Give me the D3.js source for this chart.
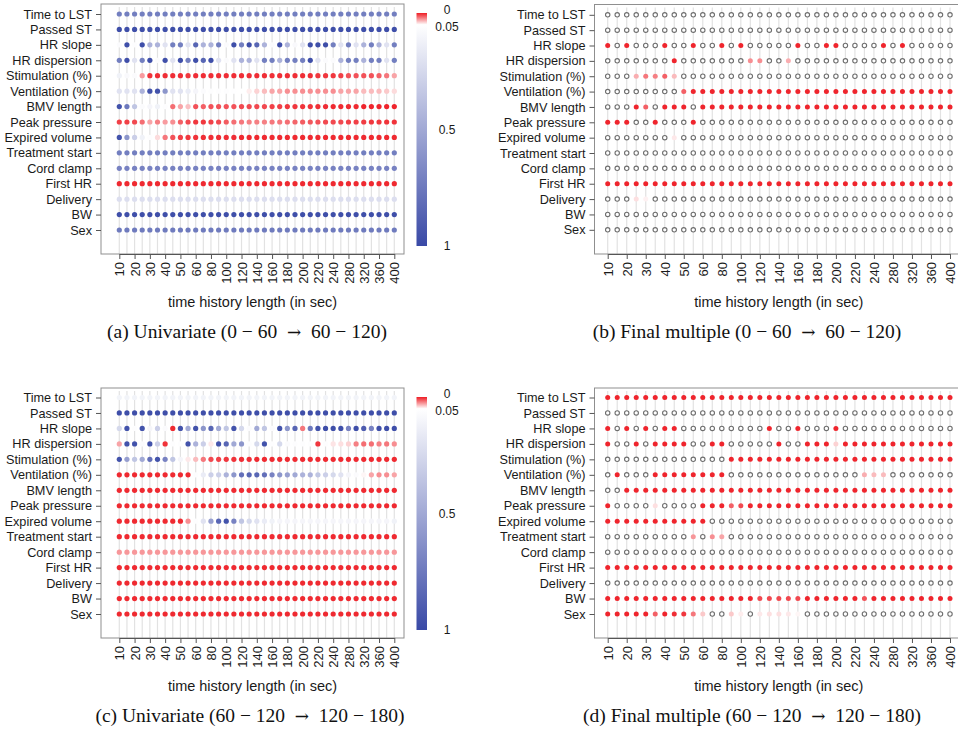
<!DOCTYPE html>
<html><head><meta charset="utf-8">
<script src="https://cdn.jsdelivr.net/npm/d3@7"></script>
<style>body{margin:0;background:#fff} svg{display:block}</style>
</head><body>
<svg id="chart" width="958" height="736"></svg>
<script>
// ---------------- data ----------------
const features = ["Time to LST","Passed ST","HR slope","HR dispersion","Stimulation (%)","Ventilation (%)",
  "BMV length","Peak pressure","Expired volume","Treatment start","Cord clamp","First HR","Delivery","BW","Sex"];
const timeSteps = [10,15,20,25,30,35,40,45,50,55,60,70,80,90,100,110,120,130,140,150,160,170,180,190,200,
  210,220,230,240,260,280,300,320,340,360,380,400];
const tickLabels = [10,20,30,40,50,60,80,100,120,140,160,180,200,220,240,280,320,360,400];
const legendTicks = [0,0.05,0.5,1];
const captions = ["(a) Univariate (0 \u2212 60 \u2192 60 \u2212 120)", "(b) Final multiple (0 \u2212 60 \u2192 60 \u2212 120)",
  "(c) Univariate (60 \u2212 120 \u2192 120 \u2212 180)", "(d) Final multiple (60 \u2212 120 \u2192 120 \u2212 180)"];
const _ = null; // feature not in the final model (open circle)

// p-values, univariate, window 0-60 -> 60-120
const pUniA = [
 [.72,.72,.72,.72,.72,.72,.72,.72,.72,.72, .72,.72,.72,.72,.72,.72,.72,.72,.72,.72, .72,.72,.72,.72,.72,.72,.72,.72,.72,.72, .72,.72,.72,.72,.72,.72,.72],
 [.97,.97,.97,.97,.97,.97,.97,.97,.97,.97, .97,.97,.97,.97,.97,.97,.97,.97,.97,.97, .97,.97,.97,.97,.97,.97,.97,.97,.97,.97, .97,.97,.97,.97,.97,.97,.97],
 [.07,.97,.06,.97,.45,.45,.2,.72,.72,.2, .85,.45,.45,.72,.07,.97,.72,.97,.85,.45, .07,.97,.45,.08,.2,.97,.97,.97,.72,.2, .72,.2,.45,.72,.45,.2,.72],
 [.72,.97,.2,.72,.97,.07,.97,.2,.97,.72, .97,.85,.97,.2,.07,.2,.45,.45,.2,.72, .72,.45,.72,.72,.72,.97,.2,.07,.07,.45, .72,.72,.45,.72,.72,.2,.72],
 [.12,.08,.07,.028,.005,.004,.004,.004,.004,.006, .004,.004,.004,.004,.004,.004,.004,.004,.004,.004, .004,.004,.004,.004,.004,.004,.006,.006,.006,.008, .012,.012,.012,.012,.015,.02,.03],
 [.2,.2,.2,.45,.95,.95,.6,.2,.2,.15, .1,.07,.06,.06,.06,.055,.05,.046,.04,.035, .03,.03,.025,.025,.025,.025,.025,.025,.025,.03, .03,.03,.035,.035,.035,.038,.042],
 [.95,.75,.35,.07,.1,.12,.06,.018,.03,.036, .012,.015,.012,.012,.012,.012,.01,.01,.01,.01, .008,.008,.006,.006,.005,.005,.004,.004,.003,.003, .003,.003,.002,.002,.002,.002,.002],
 [.008,.008,.01,.018,.03,.022,.028,.025,.015,.01, .006,.006,.008,.01,.014,.018,.02,.022,.022,.022, .02,.02,.018,.016,.014,.013,.012,.01,.01,.01, .008,.008,.007,.006,.006,.005,.005],
 [.95,.6,.3,.12,.06,.042,.02,.012,.008,.006, .005,.004,.004,.004,.004,.004,.003,.003,.003,.003, .003,.003,.003,.003,.003,.003,.003,.003,.003,.003, .003,.003,.003,.003,.003,.003,.003],
 [.72,.72,.72,.72,.72,.72,.72,.72,.72,.72, .72,.72,.72,.72,.72,.72,.72,.72,.72,.72, .72,.72,.72,.72,.72,.72,.72,.72,.72,.72, .72,.72,.72,.72,.72,.72,.72],
 [.7,.7,.7,.7,.7,.7,.7,.7,.7,.7, .7,.7,.7,.7,.7,.7,.7,.7,.7,.7, .7,.7,.7,.7,.7,.7,.7,.7,.7,.7, .7,.7,.7,.7,.7,.7,.7],
 [.003,.003,.003,.003,.003,.003,.003,.003,.003,.003, .003,.003,.003,.003,.003,.003,.003,.003,.003,.003, .003,.003,.003,.003,.003,.003,.003,.003,.003,.003, .003,.003,.003,.003,.003,.003,.003],
 [.22,.22,.22,.22,.22,.22,.22,.22,.22,.22, .22,.22,.22,.22,.22,.22,.22,.22,.22,.22, .22,.22,.22,.22,.22,.22,.22,.22,.22,.22, .22,.22,.22,.22,.22,.22,.22],
 [.97,.97,.97,.97,.97,.97,.97,.97,.97,.97, .97,.97,.97,.97,.97,.97,.97,.97,.97,.97, .97,.97,.97,.97,.97,.97,.97,.97,.97,.97, .97,.97,.97,.97,.97,.97,.97],
 [.74,.74,.74,.74,.74,.74,.74,.74,.74,.74, .74,.74,.74,.74,.74,.74,.74,.74,.74,.74, .74,.74,.74,.74,.74,.74,.74,.74,.74,.74, .74,.74,.74,.74,.74,.74,.74]
];

// p-values, final multiple model, window 0-60 -> 60-120 (null = not selected)
const pMultB = [
 [_,_,_,_,_,_,_,_,_,_, _,_,_,_,_,_,_,_,_,_, _,_,_,_,_,_,_,_,_,_, _,_,_,_,_,_,_],
 [_,_,_,_,_,_,_,_,_,_, _,_,_,_,_,_,_,_,_,_, _,_,_,_,_,_,_,_,_,_, _,_,_,_,_,_,_],
 [.002,_,.002,_,_,_,.002,_,_,.002, _,_,.002,_,.002,_,_,_,_,_, .002,_,_,.002,.002,_,_,_,_,.002, _,.002,_,_,_,_,_],
 [_,_,_,_,_,_,_,.002,_,_, _,_,_,_,_,.025,.025,_,_,.032, _,_,_,_,_,_,_,_,_,_, _,_,_,_,_,_,_],
 [_,_,_,.032,.02,.022,.015,.035,_,_, _,_,_,_,_,_,_,_,_,_, _,_,_,_,_,_,_,_,_,_, _,_,_,_,_,_,_],
 [_,_,_,_,_,_,_,_,.015,.002, .002,.002,.002,.002,.002,.002,.002,.002,.002,.002, .002,.002,.002,.002,.002,.002,.002,.002,.002,.002, .002,.002,.002,.002,.002,.002,.002],
 [_,_,_,.002,.015,_,.002,.002,.002,_, .002,.002,.002,.002,.002,.002,.002,.002,.002,.002, .002,.002,.002,.002,.002,.002,.002,.002,.002,.002, .002,.002,.002,.002,.002,.002,.002],
 [.002,.002,.002,_,_,.002,_,_,_,.002, _,_,_,_,_,_,_,_,_,_, _,_,_,_,_,_,_,_,_,_, _,_,_,_,_,_,_],
 [_,_,_,_,_,_,_,.045,_,_, _,_,_,_,_,_,_,_,_,_, _,_,_,_,_,_,_,_,_,_, _,_,_,_,_,_,_],
 [_,_,_,_,_,_,_,_,_,_, _,_,_,_,_,_,_,_,_,_, _,_,_,_,_,_,_,_,_,_, _,_,_,_,_,_,_],
 [_,_,_,_,_,_,_,_,_,_, _,_,_,_,_,_,_,_,_,_, _,_,_,_,_,_,_,_,_,_, _,_,_,_,_,_,_],
 [.002,.002,.002,.002,.002,.002,.002,.002,.002,.002, .002,.002,.002,.002,.002,.002,.002,.002,.002,.002, .002,.002,.002,.002,.002,.002,.002,.002,.002,.002, .002,.002,.002,.002,.002,.002,.002],
 [_,_,_,.043,.047,_,_,_,_,_, _,_,_,_,_,_,_,_,_,_, _,_,_,_,_,_,_,_,_,_, _,_,_,_,_,_,_],
 [_,_,_,_,_,_,_,_,_,_, _,_,_,_,_,_,_,_,_,_, _,_,_,_,_,_,_,_,_,_, _,_,_,_,_,_,_],
 [_,_,_,_,_,_,_,_,_,_, _,_,_,_,_,_,_,_,_,_, _,_,_,_,_,_,_,_,_,_, _,_,_,_,_,_,_]
];

// p-values, univariate, window 60-120 -> 120-180
const pUniC = [
 [.11,.11,.11,.11,.11,.11,.11,.11,.11,.11, .11,.11,.11,.11,.11,.11,.11,.11,.11,.11, .11,.11,.11,.11,.11,.11,.11,.11,.11,.11, .11,.11,.11,.11,.11,.11,.11],
 [.97,.97,.97,.97,.97,.97,.97,.97,.97,.97, .97,.97,.97,.97,.97,.97,.97,.97,.97,.97, .97,.97,.97,.97,.97,.97,.97,.97,.97,.97, .97,.97,.97,.97,.97,.97,.97],
 [.25,.95,.06,.95,.1,.3,.07,.003,.95,.5, .95,.6,.85,.5,.35,.95,.25,.07,.5,.35, .07,.95,.6,.85,.02,.75,.95,.97,.97,.97, .7,.97,.9,.7,.97,.97,.97],
 [.03,.95,.95,.07,.95,.3,.005,.06,.06,.95, .45,.3,.045,.95,.85,.5,.6,.06,.25,.95, .06,.25,.07,.06,.06,.06,.006,.06,.044,.043, .04,.022,.018,.018,.022,.02,.025],
 [.95,.55,.35,.5,.8,.95,.7,.35,.1,.045, .035,.02,.01,.008,.006,.005,.004,.004,.003,.003, .003,.003,.003,.003,.003,.003,.003,.003,.003,.003, .003,.003,.003,.003,.003,.003,.003],
 [.003,.003,.003,.003,.003,.003,.003,.003,.003,.003, .06,.15,.3,.3,.45,.6,.8,.85,.85,.8, .7,.6,.55,.5,.45,.45,.35,.3,.25,.2, .1,.07,.048,.03,.025,.025,.03],
 [.003,.003,.003,.003,.003,.003,.003,.003,.003,.003, .003,.003,.003,.003,.003,.003,.003,.003,.003,.003, .003,.003,.003,.003,.003,.003,.003,.003,.003,.003, .003,.003,.003,.003,.003,.003,.003],
 [.003,.003,.003,.003,.003,.003,.003,.003,.003,.003, .003,.003,.003,.003,.003,.003,.003,.003,.003,.003, .003,.003,.003,.003,.003,.003,.003,.003,.003,.003, .003,.003,.003,.003,.003,.003,.003],
 [.003,.003,.003,.003,.003,.003,.003,.003,.003,.025, .06,.2,.55,.85,.95,.7,.35,.25,.2,.15, .12,.1,.1,.1,.1,.1,.1,.1,.1,.1, .1,.1,.1,.1,.1,.1,.12],
 [.003,.003,.003,.003,.003,.003,.003,.003,.003,.003, .003,.003,.003,.003,.003,.003,.003,.003,.003,.003, .003,.003,.003,.003,.003,.003,.003,.003,.003,.003, .003,.003,.003,.003,.003,.003,.003],
 [.027,.027,.027,.027,.027,.027,.027,.027,.027,.027, .027,.027,.027,.027,.027,.027,.027,.027,.027,.027, .027,.027,.027,.027,.027,.027,.027,.027,.027,.027, .027,.027,.027,.027,.027,.027,.027],
 [.003,.003,.003,.003,.003,.003,.003,.003,.003,.003, .003,.003,.003,.003,.003,.003,.003,.003,.003,.003, .003,.003,.003,.003,.003,.003,.003,.003,.003,.003, .003,.003,.003,.003,.003,.003,.003],
 [.003,.003,.003,.003,.003,.003,.003,.003,.003,.003, .003,.003,.003,.003,.003,.003,.003,.003,.003,.003, .003,.003,.003,.003,.003,.003,.003,.003,.003,.003, .003,.003,.003,.003,.003,.003,.003],
 [.003,.003,.003,.003,.003,.003,.003,.003,.003,.003, .003,.003,.003,.003,.003,.003,.003,.003,.003,.003, .003,.003,.003,.003,.003,.003,.003,.003,.003,.003, .003,.003,.003,.003,.003,.003,.003],
 [.003,.003,.003,.003,.003,.003,.003,.003,.003,.003, .003,.003,.003,.003,.003,.003,.003,.003,.003,.003, .003,.003,.003,.003,.003,.003,.003,.003,.003,.003, .003,.003,.003,.003,.003,.003,.003]
];

// p-values, final multiple model, window 60-120 -> 120-180 (null = not selected)
const pMultD = [
 [.002,.002,.002,.002,.002,.002,.002,.002,.002,.002, .002,.002,.002,.002,.002,.002,.002,.002,.002,.002, .002,.002,.002,.002,.002,.002,.002,.002,.002,.002, .002,.002,.002,.002,.002,.002,.002],
 [_,_,_,_,_,_,_,_,_,_, _,_,_,_,_,_,_,_,_,_, _,_,_,_,_,_,_,_,_,_, _,_,_,_,_,_,_],
 [.002,_,.002,_,.002,_,.002,.002,_,_, _,_,_,_,_,_,_,.002,_,_, .002,_,_,_,.002,_,_,_,_,_, _,_,_,_,_,_,_],
 [.002,_,_,.002,_,.002,.002,.002,.002,_, _,.002,.002,_,_,_,_,_,.002,_, _,.002,.002,.002,.04,.002,.002,.002,.002,.002, .002,.002,.002,.002,.002,.002,.002],
 [_,_,_,_,_,_,_,_,_,_, _,_,_,.002,.002,.002,.002,.002,.002,.002, .002,.002,.002,.002,.002,.002,.002,.002,.002,.002, .002,.002,.002,.002,.002,.002,.002],
 [_,.002,_,_,_,.002,.002,.002,.002,.002, .002,.002,.002,_,_,_,_,_,_,_, _,_,_,_,_,_,_,.032,.035,.035, _,_,_,_,_,_,_],
 [_,_,.002,.002,.002,.002,.002,.002,.002,.002, .002,.002,.002,.002,.002,.002,.002,.002,.002,.002, .002,.002,.002,.002,.002,.002,.002,.002,.002,.002, .002,.002,.002,.002,.002,.002,.002],
 [.002,_,_,_,_,.043,_,_,_,_, .002,.002,.002,.015,.01,.002,.002,.002,.002,.002, .002,.002,.002,.002,.002,.002,.002,.002,.002,.002, .002,.002,.002,.002,.002,.002,.002],
 [.002,.002,.002,.002,.002,.002,.002,.002,.002,.002, .002,_,_,_,_,_,_,_,_,_, _,_,_,_,_,_,_,_,_,_, _,_,_,_,_,_,_],
 [_,_,_,_,_,_,_,_,_,.027, _,.025,.03,_,_,_,_,_,_,_, _,_,_,_,_,_,_,_,_,_, _,_,_,_,_,_,_],
 [_,_,_,_,_,_,_,_,_,_, _,_,_,_,_,_,_,_,_,_, _,_,_,_,_,_,_,_,_,_, _,_,_,_,_,_,_],
 [.002,.002,.002,.002,.002,.002,.002,.002,.002,.002, .002,.002,.002,.002,.002,.002,.002,.002,.002,.002, .002,.002,.002,.002,.002,.002,.002,.002,.002,.002, .002,.002,.002,.002,.002,.002,.002],
 [_,_,_,_,_,_,_,_,_,_, _,_,_,_,_,_,_,_,_,_, _,_,_,_,_,_,_,_,_,_, _,_,_,_,_,_,_],
 [.002,.002,.002,.002,.002,.002,.002,.002,.002,.002, .002,.002,.002,.002,.002,.002,.01,.01,.01,.01, .01,.002,.002,.002,.002,.002,.002,.012,.002,.002, .002,.002,.002,.002,.002,.002,.002],
 [.002,.002,.002,.002,.002,.015,.002,.004,.006,.02, .038,_,_,.038,.046,_,.045,.043,.043,.045, .048,_,_,_,_,_,_,_,_,_, _,_,_,_,_,_,_]
];

// ---------------- drawing ----------------
[pUniA,pMultB,pUniC,pMultD].forEach((m,i)=>{
  if (m.length!==features.length) throw new Error("panel "+i+" rows "+m.length);
  m.forEach((r,j)=>{ if (r.length!==timeSteps.length) throw new Error("panel "+i+" row "+j+" len "+r.length); });
});

const svg = d3.select("#chart");
svg.append("rect").attr("width",958).attr("height",736).attr("fill","#fff");
const SANS = "'Liberation Sans', Arial, Helvetica, sans-serif";
const SERIF = "'Liberation Serif', 'Times New Roman', serif";
const pColor = d3.scaleLinear().domain([0,0.05,1]).range(["#ee1c24","#ffffff","#3949a6"]).interpolate(d3.interpolateRgb);

const grad = svg.append("defs").append("linearGradient").attr("id","pgrad")
  .attr("x1",0).attr("y1",0).attr("x2",0).attr("y2",1);
pColor.domain().forEach(v => grad.append("stop").attr("offset", v).attr("stop-color", pColor(v)));

const panels = [
  {data:pUniA,  cap:captions[0], box:[101,404,4,254],     cols:[119.3,394.3], rows:[14,230],    uni:true,  capX:247, capY:338, leg:[13,246]},
  {data:pMultB, cap:captions[1], box:[594.5,963,4.5,254], cols:[607.7,950],   rows:[14.8,229.8], uni:false, capX:747, capY:338},
  {data:pUniC,  cap:captions[2], box:[101,404,388,638],   cols:[119.3,394.3], rows:[397.5,614], uni:true,  capX:250, capY:722, leg:[397,630]},
  {data:pMultD, cap:captions[3], box:[594.5,963,388,638], cols:[607.7,950],   rows:[397.5,614], uni:false, capX:752, capY:722}
];

panels.forEach(P => {
  const [x0,x1,y0,y1] = P.box;
  const g = svg.append("g");
  const x = d3.scalePoint().domain(timeSteps).range(P.cols);
  const y = d3.scalePoint().domain(features).range(P.rows);

  // vertical guide lines
  g.append("g").selectAll("line").data(timeSteps).join("line")
    .attr("x1", d=>x(d)).attr("x2", d=>x(d))
    .attr("y1", y0+3).attr("y2", y1)
    .attr("stroke","#e2e2e2").attr("stroke-width",1.2);

  // frame
  g.append("rect").attr("x",x0).attr("y",y0).attr("width",x1-x0).attr("height",y1-y0)
    .attr("fill","none").attr("stroke","#8f8f8f").attr("stroke-width",1);

  // points
  const cells = [];
  P.data.forEach((row,ri)=>row.forEach((v,ci)=>cells.push({f:features[ri], t:timeSteps[ci], v})));
  g.append("g").selectAll("circle").data(cells).join("circle")
    .attr("cx", d=>x(d.t)).attr("cy", d=>y(d.f))
    .attr("r", d => d.v===null ? 2.2 : (P.uni ? 2.6 : 2.5))
    .attr("fill", d => d.v===null ? "#fff" : pColor(d.v))
    .attr("stroke", d => d.v===null ? "#6e6e6e" : "none")
    .attr("stroke-width", 1.1);

  // y axis
  const gy = g.append("g").attr("transform",`translate(${x0},0)`)
    .call(d3.axisLeft(y).tickSize(5).tickSizeOuter(0).tickPadding(4));
  gy.select(".domain").remove();
  gy.selectAll("line").attr("stroke","#555");
  gy.selectAll("text").attr("font-family",SANS).attr("font-size",12.7).attr("fill","#1a1a1a");

  // x axis
  const gx = g.append("g").attr("transform",`translate(0,${y1})`)
    .call(d3.axisBottom(x).tickValues(tickLabels).tickSize(5).tickSizeOuter(0));
  gx.select(".domain").attr("stroke","#555");
  gx.selectAll("line").attr("stroke","#555");
  gx.selectAll("text").attr("font-family",SANS).attr("font-size",13).attr("fill","#1a1a1a")
    .attr("transform","rotate(-90)").attr("text-anchor","end")
    .attr("x",-8).attr("y",0).attr("dy","0.35em");

  // axis title
  g.append("text").attr("x",(x0+x1)/2).attr("y",y1+53)
    .attr("text-anchor","middle").attr("font-family",SANS).attr("font-size",14.5).attr("fill","#1a1a1a")
    .text("time history length (in sec)");

  // caption (arrow drawn with a fuller glyph, wider spacing around it)
  const cap = g.append("text").attr("x",P.capX).attr("y",P.capY).style("white-space","pre")
    .attr("text-anchor","middle").attr("font-family",SERIF).attr("font-size",19.5).attr("fill","#111");
  const parts = P.cap.split("\u2192");
  cap.append("tspan").text(parts[0].trimEnd() + "\u2002");
  cap.append("tspan").attr("font-family","'DejaVu Serif', serif").attr("font-size",17).text("\u2192");
  cap.append("tspan").text("\u2002" + parts[1].trimStart());

  // colour legend
  if (P.uni) {
    const ly = d3.scaleLinear().domain([0,1]).range(P.leg);
    g.append("rect").attr("x",416.5).attr("y",ly(0)).attr("width",10.5).attr("height",ly(1)-ly(0))
      .attr("fill","url(#pgrad)");
    const nudge = {0:-3, 0.05:2.5, 0.5:0, 1:0};
    g.append("g").selectAll("text").data(legendTicks).join("text")
      .attr("x",447).attr("y",d=>ly(d)+nudge[d]).attr("dy","0.35em")
      .attr("text-anchor","middle").attr("font-family",SANS).attr("font-size",12).attr("fill","#1a1a1a")
      .text(d=>String(d));
  }
});
</script>
</body></html>
